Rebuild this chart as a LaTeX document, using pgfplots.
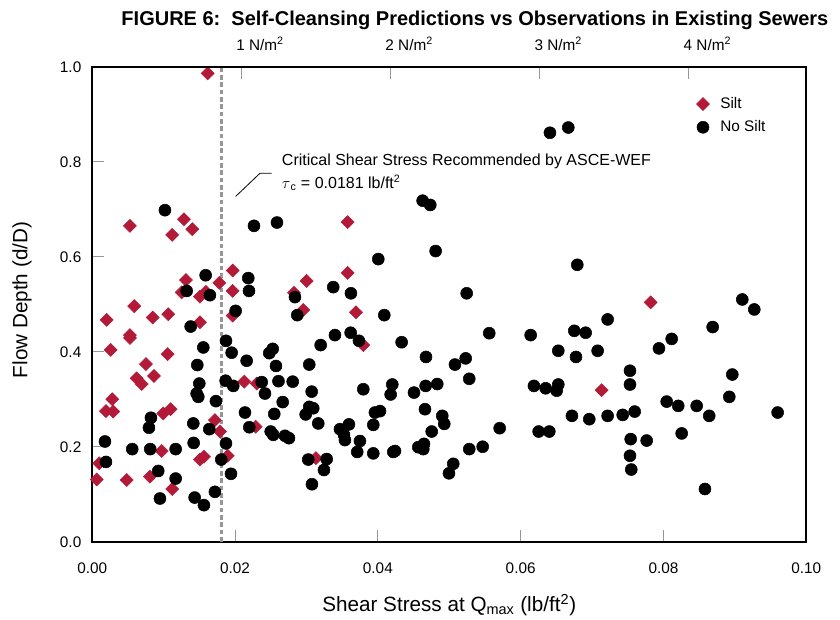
\documentclass[border=0pt]{standalone}
\usepackage{fontspec}
\setmainfont{Liberation Sans}
\usepackage{pgfplots}
\pgfplotsset{compat=1.18}
\definecolor{siltred}{RGB}{178,26,56}
\definecolor{tickgray}{RGB}{150,150,150}
\begin{document}
\begin{tikzpicture}
\useasboundingbox (-69.2pt,-58.7pt) rectangle (560.8pt,406.3pt);
\begin{axis}[
    at={(0pt,0pt)}, anchor=south west,
    scale only axis, width=535.5pt, height=356.25pt,
    xmin=0, xmax=0.1, ymin=0, ymax=1,
    xtick={0,0.02,0.04,0.06,0.08,0.1},
    ytick={0,0.2,0.4,0.6,0.8,1},
    scaled x ticks=false,
    /pgf/number format/assume math mode=true,
    xticklabel style={/pgf/number format/fixed, /pgf/number format/fixed zerofill, /pgf/number format/precision=2, yshift=-12pt},
    yticklabel style={/pgf/number format/fixed, /pgf/number format/fixed zerofill, /pgf/number format/precision=1, xshift=-4.7pt},
    tick label style={font=\fontsize{11.5}{13.8}\selectfont},
    xtick pos=bottom, ytick pos=left,
    tick align=inside,
    major tick length=9pt,
    tick style={tickgray, line width=0.75pt},
    axis line style={line width=1.5pt},
    clip=false,
    xlabel={Shear Stress at Q\textsubscript{max} (lb/ft\textsuperscript{2})},
    ylabel={Flow Depth (d/D)},
    label style={font=\fontsize{15.5}{18.6}\selectfont},
    xlabel style={at={(axis description cs:0.5,-0.133)}, anchor=center},
    ylabel style={at={(axis description cs:-0.0985,0.509)}, anchor=center},
    legend style={draw=none, fill=none, font=\fontsize{11.5}{13.8}\selectfont,
        at={(axis cs:0.0840,0.947)}, anchor=north west, row sep=3.6pt},
    legend cell align=left,
    legend image code/.code={\draw[#1] plot coordinates {(0cm,0cm)}; \path (-0.17cm,0cm) (0.38cm,0cm);},
]
% critical shear stress line
\addplot[forget plot, color=tickgray, line width=2pt, dash pattern=on 3.5pt off 2pt]
    coordinates {(0.0181,0) (0.0181,1)};

% Silt
\addplot[only marks, mark=square*, mark size=3.45pt,
    mark options={rotate=45, fill=siltred, draw=siltred}]
    coordinates {
    (0.01616,0.986) (0.00528,0.665) (0.01284,0.679) (0.01120,0.646) (0.01401,0.658)
    (0.01312,0.551) (0.01966,0.571) (0.01779,0.545) (0.01252,0.525) (0.01592,0.526)
    (0.01508,0.516) (0.01966,0.528) (0.00588,0.496) (0.00202,0.467) (0.00846,0.472)
    (0.01064,0.479) (0.01966,0.476) (0.01508,0.462) (0.00528,0.435) (0.00528,0.429)
    (0.00258,0.404) (0.01056,0.395) (0.00752,0.374) (0.00622,0.344) (0.00692,0.332)
    (0.00864,0.349) (0.02129,0.337) (0.02303,0.333) (0.00280,0.300) (0.00192,0.275)
    (0.00294,0.274) (0.00994,0.270) (0.01098,0.279) (0.01718,0.256) (0.01789,0.232)
    (0.02289,0.242) (0.00972,0.191) (0.00098,0.165) (0.01508,0.173) (0.01564,0.179)
    (0.01896,0.181) (0.00062,0.131) (0.00482,0.130) (0.00808,0.137) (0.01120,0.111)
    (0.03003,0.549) (0.02825,0.524) (0.03577,0.566) (0.02955,0.488) (0.03693,0.483)
    (0.03796,0.414) (0.03133,0.176) (0.03577,0.673) (0.07821,0.504) (0.07134,0.319)
    };

% No Silt
\addplot[only marks, mark=*, mark size=4.5pt, mark options={fill=black, draw=black}]
    coordinates {
    (0.01018,0.698) (0.02265,0.665) (0.02587,0.672) (0.04627,0.718) (0.04734,0.709)
    (0.06410,0.861) (0.06667,0.872) (0.04809,0.612) (0.04006,0.595) (0.01588,0.561)
    (0.02185,0.555) (0.01322,0.528) (0.01648,0.519) (0.02195,0.528) (0.02008,0.486)
    (0.01378,0.453) (0.01873,0.423) (0.01555,0.409) (0.01952,0.398) (0.02162,0.381)
    (0.02527,0.406) (0.02479,0.397) (0.02573,0.370) (0.01471,0.372) (0.01499,0.333)
    (0.01868,0.339) (0.01975,0.328) (0.02373,0.336) (0.02419,0.312) (0.02608,0.338)
    (0.01462,0.312) (0.01485,0.305) (0.01732,0.296) (0.00822,0.261) (0.00794,0.240)
    (0.02139,0.272) (0.01415,0.249) (0.01639,0.237) (0.02199,0.241) (0.02549,0.269)
    (0.02499,0.232) (0.02535,0.225) (0.00178,0.211) (0.00560,0.195) (0.00812,0.195)
    (0.01168,0.195) (0.01420,0.208) (0.01873,0.207) (0.00192,0.168) (0.01807,0.173)
    (0.00924,0.149) (0.01168,0.133) (0.01943,0.143) (0.00948,0.091) (0.01434,0.093)
    (0.01564,0.077) (0.01718,0.105) (0.03375,0.536) (0.03623,0.523) (0.02839,0.515)
    (0.02871,0.477) (0.04090,0.477) (0.05244,0.523) (0.03399,0.435) (0.03619,0.440)
    (0.03735,0.423) (0.03199,0.414) (0.04333,0.420) (0.04674,0.389) (0.03039,0.373)
    (0.05080,0.373) (0.05230,0.386) (0.02807,0.337) (0.03073,0.316) (0.03796,0.321)
    (0.04202,0.331) (0.04179,0.310) (0.04506,0.314) (0.04669,0.328) (0.04832,0.332)
    (0.05280,0.343) (0.02667,0.294) (0.03039,0.284) (0.03095,0.281) (0.02989,0.268)
    (0.03165,0.249) (0.02699,0.223) (0.02755,0.218) (0.03469,0.237) (0.03595,0.247)
    (0.03525,0.225) (0.03539,0.214) (0.03959,0.272) (0.04030,0.275) (0.03936,0.246)
    (0.04660,0.279) (0.04902,0.265) (0.04930,0.248) (0.04754,0.232) (0.03749,0.212)
    (0.03711,0.189) (0.03936,0.186) (0.04216,0.189) (0.04240,0.191) (0.04566,0.199)
    (0.04646,0.206) (0.04636,0.195) (0.05280,0.195) (0.03025,0.173) (0.03283,0.174)
    (0.03245,0.151) (0.03077,0.121) (0.05056,0.164) (0.04996,0.144) (0.06793,0.583)
    (0.05560,0.439) (0.06140,0.435) (0.07218,0.468) (0.06751,0.444) (0.06910,0.440)
    (0.06527,0.402) (0.06775,0.389) (0.07078,0.402) (0.07937,0.407) (0.06186,0.328)
    (0.06350,0.323) (0.06527,0.331) (0.06504,0.318) (0.07531,0.360) (0.07531,0.331)
    (0.06718,0.265) (0.06961,0.258) (0.07218,0.265) (0.07429,0.267) (0.07597,0.274)
    (0.05706,0.239) (0.06252,0.232) (0.06401,0.232) (0.05468,0.200) (0.07541,0.216)
    (0.07531,0.181) (0.07549,0.152) (0.07765,0.213) (0.09104,0.510) (0.09272,0.489)
    (0.08689,0.452) (0.08115,0.427) (0.08964,0.352) (0.08922,0.305) (0.08045,0.295)
    (0.08207,0.286) (0.08465,0.286) (0.08641,0.265) (0.09599,0.272) (0.08255,0.228)
    (0.08581,0.111)
    };
\legend{Silt, No Silt}

% annotation
\draw[black, line width=0.6pt] (axis cs:0.02008,0.7269) -- (axis cs:0.02349,0.7757) -- (axis cs:0.02513,0.7757);
\node[anchor=base west, inner sep=0pt, font=\fontsize{12}{14.4}\selectfont]
    at (axis cs:0.02653,0.791) {Critical Shear Stress Recommended by ASCE-WEF};
\node[anchor=base west, inner sep=0pt, font=\fontsize{12}{14.4}\selectfont]
    at (axis cs:0.02653,0.7446) {$\tau$\textsubscript{c} = 0.0181 lb/ft\textsuperscript{2}};
\end{axis}

% top axis in N/m^2
\begin{axis}[
    at={(0pt,0pt)}, anchor=south west,
    scale only axis, width=535.5pt, height=356.25pt,
    xmin=0, xmax=0.1, ymin=0, ymax=1,
    axis x line*=top, hide y axis,
    scaled x ticks=false,
    xtick={0.0208854,0.0417708,0.0626562,0.0835416},
    xticklabels={1 N/m\textsuperscript{2}, 2 N/m\textsuperscript{2}, 3 N/m\textsuperscript{2}, 4 N/m\textsuperscript{2}},
    tick align=inside,
    major tick length=9pt,
    tick style={tickgray, line width=0.75pt},
    axis line style={line width=1.5pt},
    xticklabel style={font=\fontsize{11.5}{13.8}\selectfont, xshift=14pt, yshift=8.4pt},
]
\end{axis}

\node[font=\bfseries\fontsize{15}{18}\selectfont] at (287pt,391.3pt)
    {FIGURE 6:\ \ Self-Cleansing Predictions vs Observations in Existing Sewers};
\end{tikzpicture}
\end{document}
